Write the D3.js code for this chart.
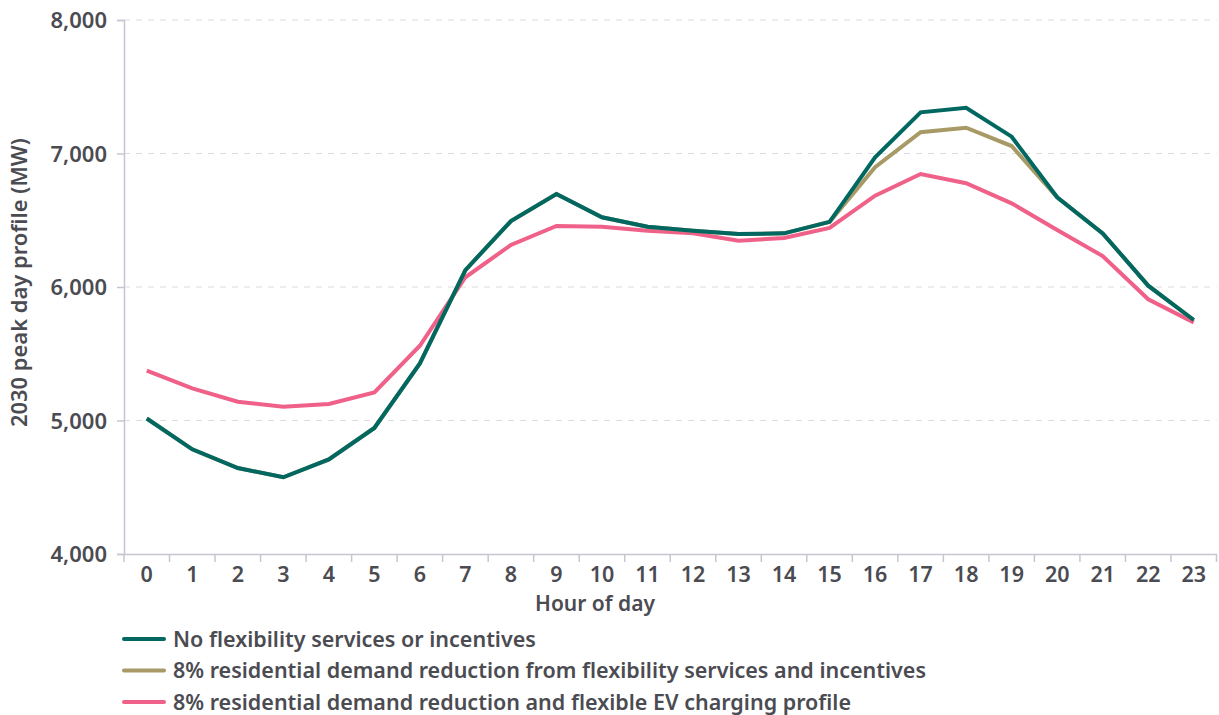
<!DOCTYPE html>
<html><head><meta charset="utf-8">
<script src="https://cdn.jsdelivr.net/npm/d3@7"></script>
<style>body{margin:0;background:#fff;} svg{display:block;} text{font-family:"Noto Sans",sans-serif;}</style>
</head><body>
<svg id="c" width="1219" height="715"></svg>
<script>
const hours = d3.range(0,24).map(String);
const noFlex = [5015,4784,4644,4575,4709,4944,5428,6127,6494,6697,6522,6452,6422,6397,6402,6488,6971,7308,7343,7126,6672,6402,6010,5753];
const resReduction = [5015,4784,4644,4575,4709,4944,5428,6127,6494,6697,6522,6452,6422,6397,6402,6488,6897,7159,7193,7056,6672,6402,6010,5753];
const resEV = [5373,5241,5141,5103,5124,5211,5560,6073,6315,6457,6452,6422,6402,6347,6367,6442,6684,6846,6777,6627,6427,6232,5908,5735];
const yTicks = [4000,5000,6000,7000,8000];
const seriesNames = ["No flexibility services or incentives","8% residential demand reduction from flexibility services and incentives","8% residential demand reduction and flexible EV charging profile"];
const seriesColors = ["#006860","#a89a66","#ef6189"];
const seriesData = [noFlex,resReduction,resEV];

const svg = d3.select("#c");
const L=124, R=1216.5, T=20, B=554;
const x = d3.scaleBand().domain(hours).range([L,R]);
const y = d3.scaleLinear().domain([4000,8000]).range([B,T]);
const txt="#4b4b52", axc="#c6c6d2";

// grid
svg.append("g").selectAll("line").data(yTicks.filter(d=>d>4000)).join("line")
  .attr("x1",L).attr("x2",R).attr("y1",d=>y(d)).attr("y2",d=>y(d))
  .attr("stroke","#dcdce0").attr("stroke-width",1.2).attr("stroke-dasharray","6,6");

// y axis
const ya = svg.append("g").attr("transform",`translate(${L},0)`)
  .call(d3.axisLeft(y).tickValues(yTicks).tickSize(7).tickPadding(10).tickFormat(d3.format(",")));
ya.select(".domain").attr("stroke",axc).attr("stroke-width",1.5);
ya.selectAll(".tick line").attr("stroke",axc).attr("stroke-width",1.5);
ya.selectAll("text").attr("fill",txt).style("font-size","22px").style("font-weight","600").attr("dy","0.35em");

// x axis
const xa = svg.append("g").attr("transform",`translate(0,${B})`)
  .call(d3.axisBottom(x).tickSize(0).tickPadding(13));
xa.select(".domain").attr("stroke",axc).attr("stroke-width",1.5);
xa.selectAll("text").attr("fill",txt).style("font-size","21.5px").style("font-weight","600");
svg.append("g").selectAll("line").data(d3.range(0,25)).join("line")
  .attr("x1",d=>L+d*x.step()).attr("x2",d=>L+d*x.step())
  .attr("y1",B).attr("y2",B+8).attr("stroke",axc).attr("stroke-width",1.5);

// titles
svg.append("text").attr("x",595).attr("y",611).attr("text-anchor","middle")
  .attr("fill",txt).style("font-size","21px").style("font-weight","600").text("Hour of day");
const yt = svg.append("text").attr("text-anchor","start")
  .attr("fill",txt).style("font-size","18.5px").style("font-weight","600").text("2030 peak day profile (MW)");
const yLen = yt.node().getComputedTextLength();
yt.style("font-size", (18.5*289/yLen)+"px");
yt.attr("transform",`translate(27,${282.5+289/2}) rotate(-90)`);

// lines
const line = d3.line().x((d,i)=>x(hours[i])+x.bandwidth()/2).y(d=>y(d));
[2,1,0].forEach(k=>{
  svg.append("path").datum(seriesData[k]).attr("d",line).attr("fill","none")
    .attr("stroke",seriesColors[k]).attr("stroke-width",4).attr("stroke-linejoin","miter");
});

// legend
const lg = svg.append("g").selectAll("g").data(seriesNames).join("g")
  .attr("transform",(d,i)=>`translate(124,${639+i*31.5})`);
lg.append("line").attr("x1",0).attr("x2",40).attr("stroke",(d,i)=>seriesColors[i]).attr("stroke-width",4).attr("stroke-linecap","round");
lg.append("text").attr("x",49).attr("dy","0.35em").attr("fill",txt).style("font-size","21.5px").style("font-weight","600").text(d=>d);
</script>
</body></html>
